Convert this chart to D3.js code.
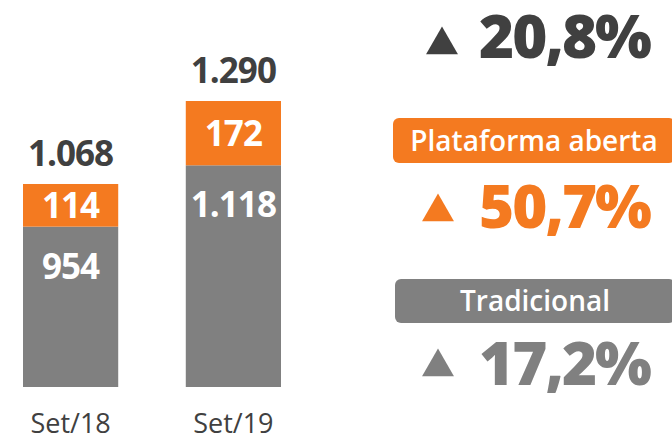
<!DOCTYPE html>
<html>
<head>
<meta charset="utf-8">
<script src="https://cdn.jsdelivr.net/npm/d3@7"></script>
<style>
  body { margin: 0; background: #fff; }
  svg { display: block; font-family: 'Open Sans', sans-serif; }
</style>
</head>
<body>
<div id="chart"></div>
<script>
const categories = ['Set/18', 'Set/19'];
const tradicional = [954, 1118];
const plataforma = [114, 172];
const totals = [1068, 1290];

const growthTotal = '20,8%';
const growthPlataforma = '50,7%';
const growthTradicional = '17,2%';

const ORANGE = '#f47a20';
const GRAY = '#808080';
const DARK = '#404040';

const fmt = v => d3.format(',')(v).replace(/,/g, '.');

const width = 672, height = 438;

const svg = d3.select('#chart')
    .append('svg')
    .attr('width', width)
    .attr('height', height);

const x = d3.scaleBand()
    .domain(categories)
    .range([23, 281])
    .paddingInner(0.415)
    .paddingOuter(0);

// axis is truncated in the original, bars are not to scale
const y = d3.scaleLinear()
    .domain([525, 1290])
    .range([387, 101]);

const bars = svg.append('g');

bars.selectAll('.trad')
    .data(categories)
    .enter()
    .append('rect')
    .attr('x', d => x(d))
    .attr('width', x.bandwidth())
    .attr('y', (d, i) => y(tradicional[i]))
    .attr('height', (d, i) => y.range()[0] - y(tradicional[i]))
    .style('fill', GRAY);

bars.selectAll('.plat')
    .data(categories)
    .enter()
    .append('rect')
    .attr('x', d => x(d))
    .attr('width', x.bandwidth())
    .attr('y', (d, i) => y(totals[i]))
    .attr('height', (d, i) => y(tradicional[i]) - y(totals[i]))
    .style('fill', ORANGE);

const labels = svg.append('g')
    .style('font-weight', 700)
    .style('font-size', '35px')
    .style('letter-spacing', '-1px')
    .style('text-anchor', 'middle');

labels.selectAll('.total')
    .data(categories)
    .enter()
    .append('text')
    .attr('x', d => x(d) + x.bandwidth() / 2)
    .attr('y', (d, i) => y(totals[i]) - 18)
    .style('fill', DARK)
    .text((d, i) => fmt(totals[i]));

labels.selectAll('.platLabel')
    .data(categories)
    .enter()
    .append('text')
    .attr('x', d => x(d) + x.bandwidth() / 2)
    .attr('y', (d, i) => (y(totals[i]) + y(tradicional[i])) / 2 + 13)
    .style('fill', '#fff')
    .text((d, i) => fmt(plataforma[i]));

labels.selectAll('.tradLabel')
    .data(categories)
    .enter()
    .append('text')
    .attr('x', d => x(d) + x.bandwidth() / 2)
    .attr('y', (d, i) => y(tradicional[i]) + 52)
    .style('fill', '#fff')
    .text((d, i) => fmt(tradicional[i]));

svg.append('g')
    .selectAll('text')
    .data(categories)
    .enter()
    .append('text')
    .attr('x', d => x(d) + x.bandwidth() / 2)
    .attr('y', 433)
    .style('text-anchor', 'middle')
    .style('font-size', '27px')
    .style('fill', DARK)
    .text(d => d);

// right panel
const panel = svg.append('g');

function growth(cx, cy, baseline, tx, txt, color) {
    panel.append('path')
        .attr('d', d3.symbol().type(d3.symbolTriangle).size(440)())
        .attr('transform', `translate(${cx},${cy})`)
        .style('fill', color);
    panel.append('text')
        .attr('x', tx)
        .attr('y', baseline)
        .style('font-size', '60px')
        .style('font-weight', 800)
        .style('letter-spacing', '-2px')
        .style('text-anchor', 'end')
        .style('fill', color)
        .text(txt);
}

function badge(x0, y0, w, h, color, txt) {
    panel.append('rect')
        .attr('x', x0)
        .attr('y', y0)
        .attr('width', w)
        .attr('height', h)
        .attr('rx', 6)
        .style('fill', color);
    panel.append('text')
        .attr('x', x0 + w / 2)
        .attr('y', y0 + h / 2 + 10)
        .style('text-anchor', 'middle')
        .style('font-size', '28px')
        .style('font-weight', 600)
        .style('fill', '#fff')
        .text(txt);
}

growth(442, 45, 58, 650, growthTotal, DARK);
badge(393, 118, 282, 45, ORANGE, 'Plataforma aberta');
growth(438, 212, 228, 650, growthPlataforma, ORANGE);
badge(395, 279, 280, 44, GRAY, 'Tradicional');
growth(438, 367, 385, 650, growthTradicional, GRAY);
</script>
</body>
</html>
